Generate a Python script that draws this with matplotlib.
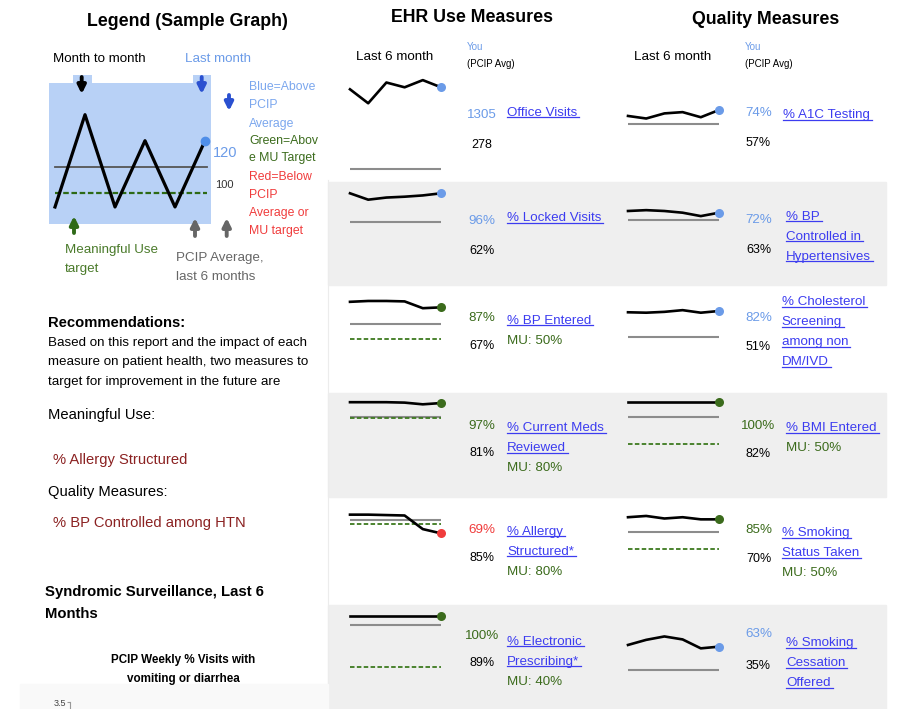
import matplotlib
matplotlib.use("Agg")
import matplotlib.pyplot as plt
from matplotlib.patches import Rectangle
from matplotlib.lines import Line2D
from matplotlib.transforms import IdentityTransform

plt.rcParams['font.family'] = ['Liberation Sans', 'DejaVu Sans']

W, H = 900, 709

# --- données ---
mois = [0, 1, 2, 3, 4, 5]

legende_vous = [69, 140, 69, 120, 69, 120]
legende_moy = 100
legende_mu = 80

ehr_noms = ["Office Visits", "% Locked Visits", "% BP Entered",
            "% Current Meds\nReviewed", "% Allergy\nStructured*",
            "% Electronic\nPrescribing*"]
ehr_vous = [[1280, 1105, 1365, 1305, 1395, 1305],
            [96, 88.5, 91, 92, 93.5, 96],
            [93.5, 94.5, 94.5, 94, 86, 87],
            [98, 98, 98, 97.5, 95.5, 97],
            [91, 91, 90.5, 90, 74, 69],
            [100, 100, 100, 100, 100, 100]]
ehr_moy = [278, 62, 67, 81, 85, 89]
ehr_mu = [None, None, 50, 80, 80, 40]
ehr_txt_vous = ["1305", "96%", "87%", "97%", "69%", "100%"]
ehr_txt_moy = ["278", "62%", "67%", "81%", "85%", "89%"]

qm_noms = ["% A1C Testing", "% BP\nControlled in\nHypertensives",
           "% Cholesterol\nScreening\namong non\nDM/IVD", "% BMI Entered",
           "% Smoking\nStatus Taken", "% Smoking\nCessation\nOffered"]
qm_vous = [[67, 64, 70, 71.5, 65.5, 74],
           [74, 75, 74, 72, 68, 72],
           [80.5, 80, 81, 83, 80, 82],
           [100, 100, 100, 100, 100, 100],
           [87.5, 89, 86, 87.5, 85, 85],
           [65, 71, 75, 71.5, 61, 63]]
qm_moy = [57, 63, 51, 82, 70, 35]
qm_mu = [None, None, None, 50, 50, None]
qm_txt_vous = ["74%", "72%", "82%", "100%", "85%", "63%"]
qm_txt_moy = ["57%", "63%", "51%", "82%", "70%", "35%"]

# --- couleurs ---
BLEU = '#6b9be8'
VERT = '#3b6b1c'
ROUGE = '#f03c3c'
LIEN = '#3c3cf0'
GRIS = '#8c8c8c'
BANDE = '#efefef'


def statut(vous, moy, mu):
    """Couleur du dernier mois"""
    dernier = vous[-1]
    if dernier < moy or (mu is not None and dernier < mu):
        return ROUGE
    if mu is not None:
        return VERT
    return BLEU


fig = plt.figure(figsize=(W / 100, H / 100), dpi=100)
fig.patch.set_facecolor('white')
fond = fig.add_axes([0, 0, 1, 1])
fond.set_xlim(0, W)
fond.set_ylim(H, 0)
fond.axis('off')


def axe_px(x, y, w, h):
    return fig.add_axes([x / W, 1 - (y + h) / H, w / W, h / H])


def texte(x, y, s, **kw):
    kw.setdefault('va', 'center')
    kw.setdefault('fontsize', 9.5)
    return fond.text(x, y, s, **kw)


# bandes grises
for y0, y1 in [(182, 285), (393, 497), (605, 709)]:
    fond.add_patch(Rectangle((328, y0), 558, y1 - y0, color=BANDE, zorder=0))
fond.plot([328, 328], [180, 709], color='#ececec', lw=0.8, zorder=0)
fond.add_patch(Rectangle((20, 684), 308, 25, color='#f9f9f9', zorder=0))

# titres
texte(187, 22, "Legend (Sample Graph)", fontsize=12.8, weight='bold', ha='center')
texte(472, 18, "EHR Use Measures", fontsize=12.8, weight='bold', ha='center')
texte(766, 20, "Quality Measures", fontsize=12.8, weight='bold', ha='center')

# --- légende ---
texte(53, 59, "Month to month", fontsize=9.6)
texte(185, 59, "Last month", fontsize=9.6, color=BLEU)
BLEU_FOND = '#b8d1f6'
for x0, x1 in [(72.7, 92), (193.3, 210.7)]:
    fond.add_patch(Rectangle((x0, 75), x1 - x0, 9, color=BLEU_FOND, lw=0))

ax = axe_px(49.3, 82.7, 161.4, 141.3)
ax.set_zorder(-1)
ax.set_facecolor(BLEU_FOND)
ax.set_xlim(-0.19, 5.19)
ax.set_ylim(55.9, 164.6)
ax.axhline(legende_moy, xmin=0.035, xmax=0.975, color='#555555', lw=1.3)
ax.axhline(legende_mu, xmin=0.035, xmax=0.975, color='#2d6a15', lw=1.6,
           ls=(0, (2.5, 1.2)))
ax.plot(mois, legende_vous, color='black', lw=2.3)
ax.plot(mois[-1], legende_vous[-1], 'o', color='#4f8ee8', ms=6)
ax.set_xticks([])
ax.set_yticks([])
for s in ax.spines.values():
    s.set_visible(False)

texte(213, 153, "120", fontsize=10.5, color=BLEU)
texte(215, 185, "100", fontsize=8, color='#333333')

fleche = dict(arrowstyle='-|>', lw=2.8, mutation_scale=12, shrinkA=0, shrinkB=0)
fond.annotate("", xy=(81.7, 94), xytext=(81.7, 77), arrowprops=dict(fleche, color='black'))
fond.annotate("", xy=(201.7, 94), xytext=(201.7, 77), arrowprops=dict(fleche, color='#2a50d0'))
fond.annotate("", xy=(229, 111), xytext=(229, 95), arrowprops=dict(fleche, color='#2a50d0'))
fond.annotate("", xy=(74, 216), xytext=(74, 233), arrowprops=dict(fleche, color='#2f6a18'))
fond.annotate("", xy=(195, 218), xytext=(195, 236), arrowprops=dict(fleche, color='#666666'))
fond.annotate("", xy=(226.7, 218), xytext=(226.7, 236), arrowprops=dict(fleche, color='#666666'))

for i, s in enumerate(["Blue=Above", "PCIP", "Average"]):
    texte(249, 87 + 18.5 * i, s, fontsize=8.8, color='#7ba7ee')
for i, s in enumerate(["Green=Abov", "e MU Target"]):
    texte(249, 141 + 17.5 * i, s, fontsize=8.8, color=VERT)
for i, s in enumerate(["Red=Below", "PCIP", "Average or", "MU target"]):
    texte(249, 177 + 18 * i, s, fontsize=8.8, color=ROUGE)
for i, s in enumerate(["Meaningful Use", "target"]):
    texte(65, 250 + 19 * i, s, fontsize=9.6, color='#4a7a2a')
for i, s in enumerate(["PCIP Average,", "last 6 months"]):
    texte(176, 258 + 19 * i, s, fontsize=9.6, color='#666666')

# --- recommandations ---
texte(48, 323, "Recommendations:", fontsize=10.6, weight='bold')
for i, s in enumerate(["Based on this report and the impact of each",
                       "measure on patient health, two measures to",
                       "target for improvement in the future are"]):
    texte(48, 343 + 19.5 * i, s, fontsize=9.6)
texte(48, 415, "Meaningful Use:", fontsize=10.6)
texte(53, 460, "% Allergy Structured", fontsize=10.6, color='#8b2222')
texte(48, 492, "Quality Measures:", fontsize=10.6)
texte(53, 523, "% BP Controlled among HTN", fontsize=10.6, color='#8b2222')
texte(45, 592, "Syndromic Surveillance, Last 6", fontsize=10.7, weight='bold')
texte(45, 614, "Months", fontsize=10.7, weight='bold')
texte(183, 660, "PCIP Weekly % Visits with", fontsize=8.4, weight='bold', ha='center')
texte(183, 679, "vomiting or diarrhea", fontsize=8.4, weight='bold', ha='center')

bas = axe_px(70, 702, 250, 40)
bas.set_facecolor('none')
bas.set_ylim(0, 3.5)
bas.set_yticks([3.5])
bas.set_yticklabels(["3.5"], fontsize=6.5, color='#444444')
bas.set_xticks([])
bas.tick_params(axis='y', length=2, pad=1, color='#999999')
for c in ['top', 'right', 'bottom']:
    bas.spines[c].set_visible(False)
bas.spines['left'].set_color('#999999')

# --- en-têtes colonnes ---
for xc, xv in [(395, 467), (673, 745)]:
    texte(xc, 57, "Last 6 month", fontsize=9.6, ha='center')
    texte(xv, 47, "You", fontsize=7, color=BLEU)
    texte(xv, 64, "(PCIP Avg)", fontsize=7)


# --- petites courbes ---
def courbe(x0, y_ref, v_ref, ppu, ylim, vous, moy, mu):
    lo, hi = ylim
    top = y_ref - (hi - v_ref) * ppu
    a = axe_px(x0, top, 91, (hi - lo) * ppu)
    a.set_xlim(0, 5)
    a.set_ylim(lo, hi)
    a.axis('off')
    a.axhline(moy, color=GRIS, lw=1.5, zorder=1)
    if mu is not None:
        a.axhline(mu, color='#3d7a1f', lw=1.3, ls=(0, (2.5, 1.3)), zorder=1)
    a.plot(mois, vous, color='black', lw=1.9, clip_on=False, zorder=2)
    a.plot(mois[-1], vous[-1], 'o', ms=6.5, color=statut(vous, moy, mu),
           mec='none', clip_on=False, zorder=3)


PPU = 0.85
ehr_y100 = [None, 189.9, 296.3, 400.5, 507, 615.7]
qm_y100 = [87.9, 188.9, 295.7, 401.7, 506.6, 615.2]

for i in range(6):
    if i == 0:
        courbe(350, 87.3, 1305, 0.0798, (0, 1450), ehr_vous[i], ehr_moy[i], ehr_mu[i])
    else:
        courbe(350, ehr_y100[i], 100, PPU, (0, 105), ehr_vous[i], ehr_moy[i], ehr_mu[i])
    courbe(628, qm_y100[i], 100, PPU, (0, 105), qm_vous[i], qm_moy[i], qm_mu[i])

# --- valeurs et liens ---
renderer = fig.canvas.get_renderer()
liens_txt = []


def bloc(xv, yv, ym, xl, yl, nom, tv, tm, couleur, mu):
    texte(xv, yv, tv, fontsize=9.6, color=couleur, ha='center')
    texte(xv, ym, tm, fontsize=9, color='black', ha='center')
    lignes = nom.split("\n")
    for k, s in enumerate(lignes):
        liens_txt.append(texte(xl, yl + 20 * k, s, fontsize=9.6, color=LIEN))
    if mu is not None:
        texte(xl, yl + 20 * len(lignes), "MU: %d%%" % mu, fontsize=9.6, color=VERT)


ehr_yv = [115, 220.7, 318.3, 425.7, 530, 636]
ehr_ym = [145, 250.7, 346, 453.3, 558.3, 663.3]
ehr_yl = [112.7, 218, 320.7, 428.3, 531.7, 641.7]
qm_yv = [113.3, 220, 318.3, 425.7, 530, 634]
qm_ym = [143.3, 250, 346.7, 454.3, 559.3, 666]
qm_yl = [115, 216.7, 302.3, 428.3, 533.3, 643.3]
qm_xl = [783.3, 786, 781.7, 786, 781.7, 786]

for i in range(6):
    bloc(482, ehr_yv[i], ehr_ym[i], 507, ehr_yl[i], ehr_noms[i],
         ehr_txt_vous[i], ehr_txt_moy[i],
         statut(ehr_vous[i], ehr_moy[i], ehr_mu[i]), ehr_mu[i])
    bloc(758.5, qm_yv[i], qm_ym[i], qm_xl[i], qm_yl[i], qm_noms[i],
         qm_txt_vous[i], qm_txt_moy[i],
         statut(qm_vous[i], qm_moy[i], qm_mu[i]), qm_mu[i])

# soulignement des liens
for t in liens_txt:
    bb = t.get_window_extent(renderer)
    fig.add_artist(Line2D([bb.x0, bb.x1 + 2], [bb.y0 + 1.5, bb.y0 + 1.5],
                          transform=IdentityTransform(), color=LIEN, lw=0.9))

fig.savefig("out.png", dpi=100)
